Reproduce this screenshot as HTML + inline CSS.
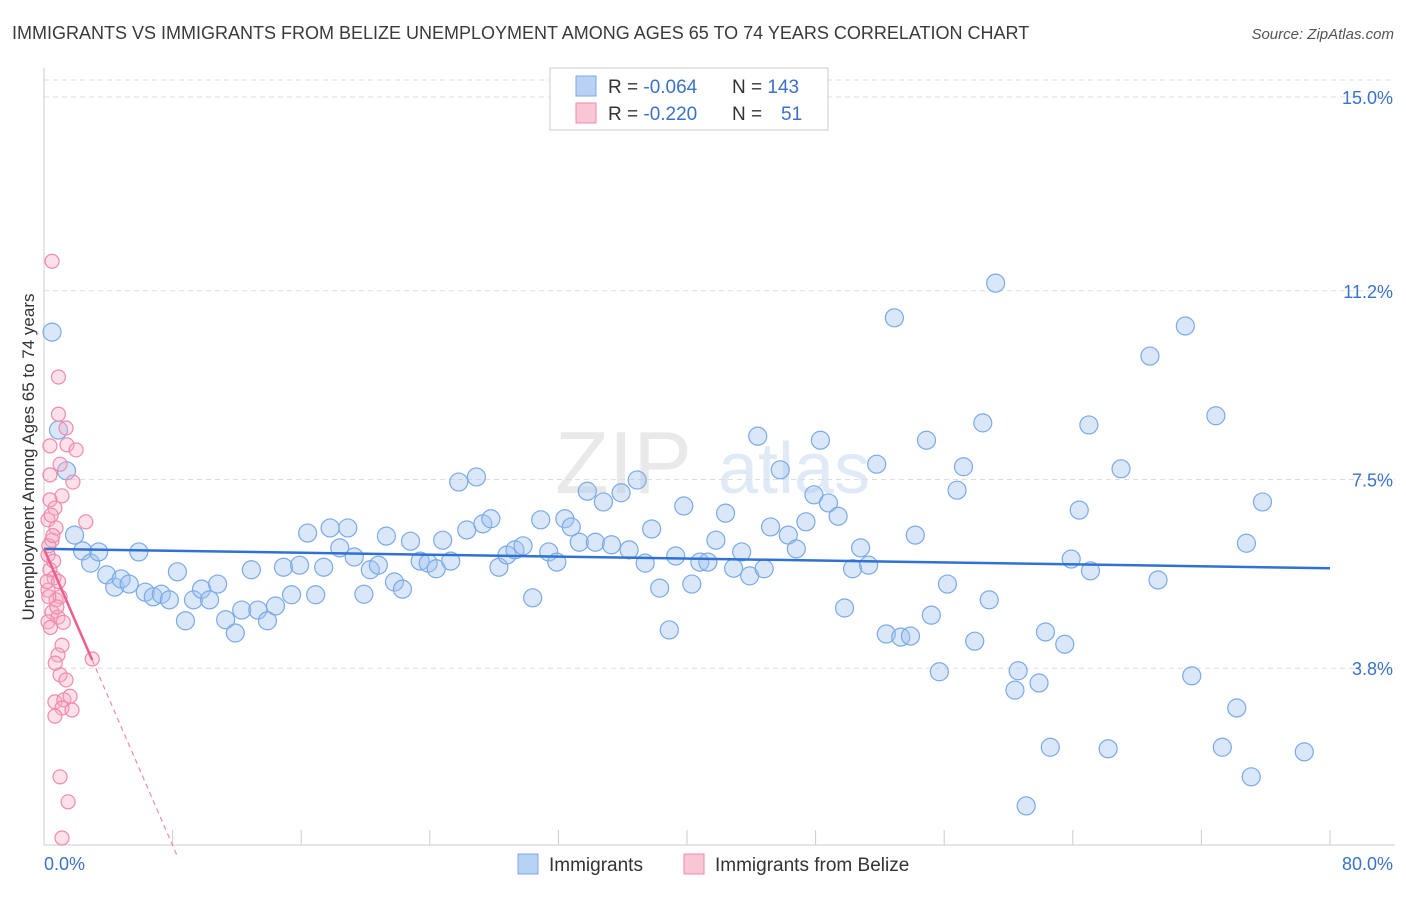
<!DOCTYPE html>
<html><head><meta charset="utf-8"><style>
body{margin:0;background:#fff;font-family:"Liberation Sans",sans-serif}
svg text{font-family:"Liberation Sans",sans-serif}
</style></head><body>
<svg id="chart" width="1406" height="892" xmlns="http://www.w3.org/2000/svg">
<text x="12" y="39" font-size="18" fill="#3a3a3a">IMMIGRANTS VS IMMIGRANTS FROM BELIZE UNEMPLOYMENT AMONG AGES 65 TO 74 YEARS CORRELATION CHART</text>
<text x="1394" y="39" font-size="15" fill="#555" text-anchor="end" font-style="italic">Source: ZipAtlas.com</text>
<text transform="translate(34,457) rotate(-90)" font-size="17" fill="#333" text-anchor="middle">Unemployment Among Ages 65 to 74 years</text>
<g opacity="0.18">
<text x="555" y="493" font-size="88" font-family="Liberation Serif" fill="#888">ZIP</text>
<text x="718" y="493" font-size="72" fill="#5b8fd6">atlas</text>
</g>
<g id="grid"></g><g id="axes"></g><g id="marks"></g>
<g>
<rect x="550" y="68" width="278" height="62" fill="#fff" stroke="#ccc"/>
<rect x="576" y="76" width="20" height="20" fill="#b9d2f3" stroke="#7aaae8"/>
<text x="608" y="93" font-size="19" fill="#333">R = <tspan fill="#3a72c8">-0.064</tspan><tspan x="732">N = </tspan><tspan fill="#3a72c8">143</tspan></text>
<rect x="576" y="103" width="20" height="20" fill="#f9c6d6" stroke="#f08aab"/>
<text x="608" y="120" font-size="19" fill="#333">R = <tspan fill="#3a72c8">-0.220</tspan><tspan x="732">N = </tspan><tspan x="781" fill="#3a72c8">51</tspan></text>
</g>
<g>
<rect x="518" y="854" width="20" height="20" fill="#b9d2f3" stroke="#7aaae8"/>
<text x="549" y="871" font-size="19" fill="#333">Immigrants</text>
<rect x="684" y="854" width="20" height="20" fill="#f9c6d6" stroke="#f08aab"/>
<text x="715" y="871" font-size="19" fill="#333">Immigrants from Belize</text>
</g>
</svg>
<script>
const yTicks=[3.8,7.5,11.2,15.0];
const yTickLabels=["3.8%","7.5%","11.2%","15.0%"];
const xTickLabels=["0.0%","80.0%"];
const blueX=[0.5,0.9,1.4,1.9,2.4,2.9,3.4,3.9,4.4,4.8,5.3,5.9,6.3,6.8,7.3,7.8,8.3,8.8,9.3,9.8,10.3,10.8,11.3,11.9,12.3,12.9,13.3,13.9,14.4,14.9,15.4,15.9,16.4,16.9,17.4,17.8,18.4,18.9,19.3,19.9,20.3,20.8,21.3,21.8,22.3,22.8,23.4,23.9,24.4,24.8,25.3,25.8,26.3,26.9,27.3,27.8,28.3,28.8,29.3,29.8,30.4,30.9,31.4,31.9,32.4,32.8,33.3,33.8,34.3,34.8,35.3,35.9,36.4,36.9,37.4,37.8,38.3,38.9,39.3,39.8,40.3,40.8,41.3,41.8,42.4,42.9,43.4,43.9,44.4,44.8,45.2,45.8,46.3,46.8,47.4,47.9,48.3,48.8,49.4,49.8,50.3,50.8,51.3,51.8,52.4,52.9,53.3,53.9,54.2,54.9,55.2,55.7,56.2,56.8,57.2,57.9,58.4,58.8,59.2,60.4,60.6,61.1,61.9,62.3,62.6,63.5,63.9,64.4,65.1,65.0,66.2,67.0,68.8,69.3,71.0,71.4,72.9,73.3,74.2,74.8,75.1,75.8,78.4];
const blueY=[10.39,8.47,7.67,6.41,6.10,5.86,6.08,5.63,5.39,5.55,5.45,6.08,5.29,5.20,5.25,5.14,5.69,4.73,5.14,5.35,5.14,5.45,4.75,4.49,4.94,5.73,4.94,4.73,5.02,5.78,5.24,5.82,6.45,5.24,5.78,6.55,6.16,6.55,5.98,5.25,5.73,5.82,6.39,5.49,5.35,6.29,5.90,5.86,5.75,6.31,5.90,7.45,6.51,7.55,6.63,6.73,5.78,6.02,6.12,6.20,5.18,6.71,6.08,5.88,6.73,6.57,6.27,7.27,6.27,7.06,6.22,7.24,6.12,7.49,5.86,6.53,5.37,4.55,6.00,6.98,5.45,5.88,5.88,6.31,6.84,5.76,6.08,5.61,8.35,5.75,6.57,7.69,6.41,6.14,6.67,7.20,8.27,7.04,6.78,4.98,5.75,6.16,5.82,7.80,4.47,10.67,4.41,4.43,6.41,8.27,4.84,3.73,5.45,7.29,7.75,4.33,8.61,5.14,11.35,3.37,3.75,1.10,3.51,4.51,2.25,4.27,5.94,6.90,5.71,8.57,2.22,7.71,9.92,5.53,10.51,3.65,8.75,2.25,3.02,6.25,1.67,7.06,2.16];
const pinkX=[0.5,0.9,0.9,0.37,1.0,1.43,2.0,1.8,1.12,0.37,0.37,0.68,0.25,0.75,2.6,0.5,0.25,0.37,0.62,0.25,0.75,1.0,0.5,0.87,0.25,1.12,0.87,3.0,1.0,1.37,0.68,1.24,1.62,1.12,1.74,0.68,1.0,1.5,1.12,1.37,0.3,0.6,0.2,0.8,0.4,0.55,0.3,1.2,0.45,0.7,0.9];
const pinkY=[11.78,9.51,8.78,8.16,7.80,8.18,8.08,7.45,7.18,7.59,7.10,6.94,6.71,6.55,6.67,6.31,6.02,5.73,5.57,5.33,5.14,5.20,4.90,4.80,4.71,4.25,4.06,3.98,3.67,3.57,3.14,3.18,3.25,3.02,2.98,2.86,1.67,1.18,0.47,8.51,6.2,5.9,5.5,5.0,4.6,6.4,5.2,4.7,6.8,3.9,5.5];
const blueTrend=[6.14,5.76];
const pinkTrend=[6.14,3.96];
const X=v=>44+v*16.075, Y=v=>862-v*51;
const NS="http://www.w3.org/2000/svg";
function mk(parent,tag,attrs){const e=document.createElementNS(NS,tag);for(const k in attrs)e.setAttribute(k,attrs[k]);document.getElementById(parent).appendChild(e);return e;}
yTicks.forEach((t,i)=>{
 const g=mk('grid','line',{x1:44,x2:1395,y1:Y(t),y2:Y(t),stroke:'#ddd','stroke-dasharray':'5,4'});
 
 
 const l=mk('axes','text',{x:1393,y:Y(t)+7,'font-size':18,fill:'#3a72c8','text-anchor':'end'});
 l.textContent=yTickLabels[i];
 
 
});
const tg=mk('grid','line',{x1:44,x2:1395,y1:Y(15)-17,y2:Y(15)-17,stroke:'#ddd','stroke-dasharray':'5,4'});


const ya=mk('axes','line',{x1:44,x2:44,y1:68,y2:845,stroke:'#ccc'});


const xa=mk('axes','line',{x1:44,x2:1395,y1:845,y2:845,stroke:'#ccc'});


for(let i=1;i<=10;i++){const t=mk('axes','line',{x1:X(i*8),x2:X(i*8),y1:830,y2:845,stroke:'#ccc'});
 
 }
const xl0=mk('axes','text',{x:44,y:870,'font-size':18,fill:'#3a72c8'});xl0.textContent=xTickLabels[0];


const xl1=mk('axes','text',{x:1393,y:870,'font-size':18,fill:'#3a72c8','text-anchor':'end'});xl1.textContent=xTickLabels[1];


blueX.forEach((x,i)=>{const c=mk('marks','circle',{cx:X(x),cy:Y(blueY[i]),r:9,fill:'rgba(160,195,240,0.4)',stroke:'#7aaae8','stroke-width':1.2});
 
 });
pinkX.forEach((x,i)=>{const c=mk('marks','circle',{cx:X(x),cy:Y(pinkY[i]),r:7,fill:'rgba(245,170,195,0.35)',stroke:'#f08aab','stroke-width':1.2});
 
 });
const bl=mk('marks','line',{x1:X(0),y1:Y(blueTrend[0]),x2:X(80),y2:Y(blueTrend[1]),stroke:'#2f72d4','stroke-width':2.5});


const slope=(pinkTrend[1]-pinkTrend[0])/3;
const pl=mk('marks','line',{x1:X(0),y1:Y(pinkTrend[0]),x2:X(3),y2:Y(pinkTrend[1]),stroke:'#ea5f8c','stroke-width':2.5});


const xEnd=-pinkTrend[0]/slope*0.98;
const pd=mk('marks','line',{x1:X(3),y1:Y(pinkTrend[1]),x2:X(xEnd),y2:Y(pinkTrend[0]+slope*xEnd),stroke:'#f08aab','stroke-width':1.2,'stroke-dasharray':'5,4'});


</script>
</body></html>
